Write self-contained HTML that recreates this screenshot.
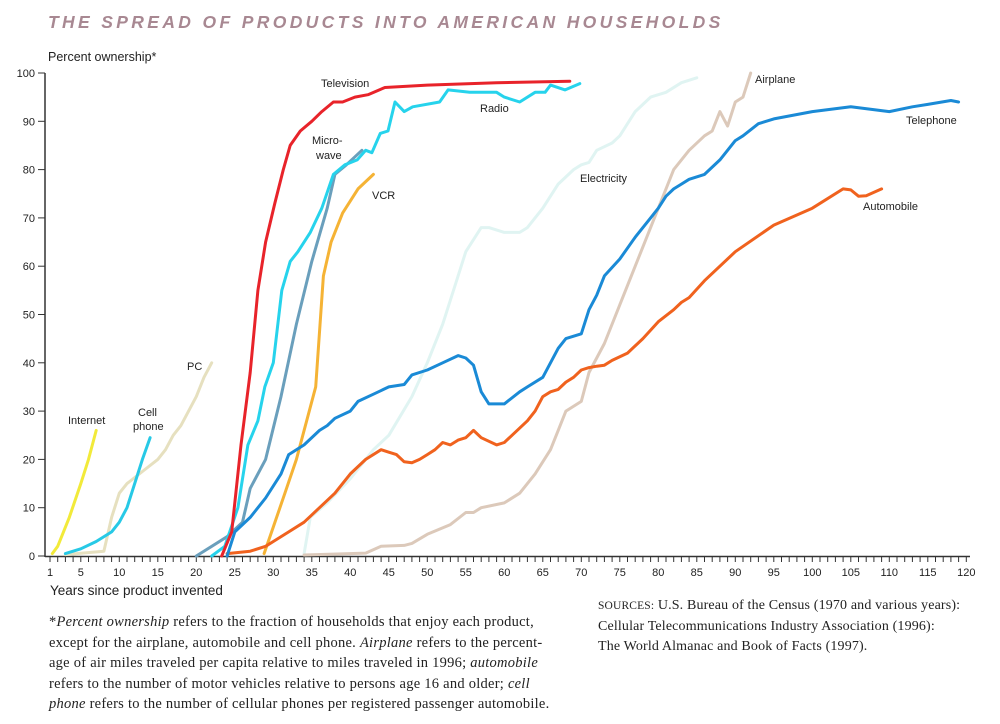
<!DOCTYPE html>
<html><head><meta charset="utf-8"><style>
body{margin:0;background:#fff;width:1000px;height:724px;overflow:hidden;font-family:"Liberation Sans",sans-serif}
svg{position:absolute;left:0;top:0}
.note{position:absolute;font-family:"Liberation Serif",serif;font-size:14px;line-height:20.5px;color:#222;white-space:nowrap}
</style></head><body>
<svg id="chart" width="1000" height="724">
<text x="48" y="28" font-size="17.5" font-weight="bold" font-style="italic" fill="#a88892" letter-spacing="3.35">THE SPREAD OF PRODUCTS INTO AMERICAN HOUSEHOLDS</text>
<text x="48" y="61" font-size="12.5" fill="#222">Percent ownership*</text>
<text x="50" y="595" font-size="13.5" fill="#222">Years since product invented</text>
<g id="axes"></g><g id="series"></g><g id="labels" font-size="11" fill="#222"></g>
</svg>
<div class="note" style="left:49px;top:612px;font-size:14.5px;letter-spacing:0.25px">*<i>Percent ownership</i> refers to the fraction of households that enjoy each product,<br>except for the airplane, automobile and cell phone. <i>Airplane</i> refers to the percent-<br>age of air miles traveled per capita relative to miles traveled in 1996; <i>automobile</i><br>refers to the number of motor vehicles relative to persons age 16 and older; <i>cell<br>phone</i> refers to the number of cellular phones per registered passenger automobile.</div>
<div class="note" style="left:598px;top:596px;letter-spacing:0.15px"><span style="font-size:11.5px">SOURCES:</span> U.S. Bureau of the Census (1970 and various years):<br>Cellular Telecommunications Industry Association (1996):<br>The World Almanac and Book of Facts (1997).</div>
<script>
const xTicks=[1,5,10,15,20,25,30,35,40,45,50,55,60,65,70,75,80,85,90,95,100,105,110,115,120];
const yTicks=[0,10,20,30,40,50,60,70,80,90,100];
const television=[[23.3,0],[24.6,5],[25.8,23],[27,38],[28,55],[29,65],[30.2,73],[31.3,80],[32.2,85],[33.5,88],[35,90],[36.3,92],[37.8,94],[39,94],[40.6,95],[42.3,95.5],[44.5,97],[50,97.5],[59,98],[68.5,98.3]];
const radio=[[22,0],[23.7,2],[25.4,10],[26.7,23],[28,28],[28.9,35],[30,40],[31.1,55],[32.2,61],[33.2,63],[34.8,67],[36.3,72],[37.8,79],[39.3,81],[40.9,82],[42,84],[42.8,83.5],[43.9,87.5],[44.9,88],[45.8,94],[47,92],[48.1,93],[51.6,94],[52.7,96.5],[55.5,96],[59,96],[60,95],[62,94],[64,96],[65.3,96],[66,97.5],[67.9,96.5],[69.8,97.8]];
const microwave=[[20,0],[24,4],[26,7],[27,14],[29,20],[31,33],[33,48],[35,61],[37,72],[38,79],[39.5,81],[41.5,84]];
const vcr=[[28.8,0.5],[30,6],[31.5,13],[33,20],[35.5,35],[36.5,58],[37.5,65],[39,71],[41,76],[43,79]];
const internet=[[1.3,0.5],[2,2],[3.5,8],[5,15],[6,20],[7,26]];
const cellPhone=[[3,0.5],[5,1.5],[7,3],[9,5],[10,7],[11,10],[12,15],[13,20],[14,24.5]];
const pc=[[3,0.3],[8,1],[9,8],[10,13],[11,15],[13,17.5],[15,20],[16,22],[17,25],[18,27],[19,30],[20,33],[21,37],[22,40]];
const electricity=[[34,0.5],[34.8,8],[37,11],[40,16],[43,22],[45,25],[48,33],[50,40],[52,48],[54,58],[55,63],[57,68],[58,68],[60,67],[62,67],[63,68],[65,72],[67,77],[69,80],[70,81],[71,81.5],[72,84],[74,85.5],[75,87],[77,92],[79,95],[81,96],[83,98],[85,99]];
const airplane=[[34,0.2],[42,0.6],[44,2],[47,2.2],[48,2.6],[50,4.5],[53,6.5],[55,9],[56,9],[57,10],[60,11],[62,13],[64,17],[66,22],[67,26],[68,30],[70,32],[71,38],[73,44],[75,52],[77,60],[79,68],[81,76],[82,80],[84,84],[86,87],[87,88],[88,92],[89,89],[90,94],[91,95],[92,100]];
const telephone=[[24,0],[25,5],[27,8],[29,12],[31,17],[32,21],[34,23],[36,26],[37,27],[38,28.5],[40,30],[41,32],[43,33.5],[45,35],[47,35.5],[48,37.5],[50,38.5],[52,40],[54,41.5],[55,41],[56,39.5],[57,34],[58,31.5],[60,31.5],[62,34],[63,35],[65,37],[66,40],[67,43],[68,45],[69,45.5],[70,46],[71,51],[72,54],[73,58],[75,61.5],[77,66],[79,70],[80,72],[81,74.5],[82,76],[83,77],[84,78],[86,79],[88,82],[90,86],[91,87],[93,89.5],[95,90.5],[100,92],[105,93],[110,92],[113,93],[115,93.5],[118,94.3],[119,94]];
const automobile=[[24,0.5],[27,1],[29,2],[30,3],[32,5],[34,7],[36,10],[38,13],[40,17],[42,20],[44,22],[45,21.5],[46,21],[47,19.5],[48,19.3],[49,20],[50,21],[51,22],[52,23.5],[53,23],[54,24],[55,24.5],[56,26],[57,24.5],[59,23],[60,23.5],[61,25],[63,28],[64,30],[65,33],[66,34],[67,34.5],[68,36],[69,37],[70,38.5],[71,39],[72,39.3],[73,39.5],[74,40.5],[76,42],[78,45],[80,48.5],[82,51],[83,52.5],[84,53.5],[86,57],[90,63],[95,68.5],[100,72],[104,76],[105,75.8],[106,74.5],[107,74.6],[109,76]];
const X=v=>50+(v-1)*7.7, Y=v=>556-v*4.83;
const NS='http://www.w3.org/2000/svg';
function mk(t,a,p){const e=document.createElementNS(NS,t);for(const k in a)e.setAttribute(k,a[k]);p.appendChild(e);return e;}
const ax=document.getElementById('axes');
let e=mk('line',{x1:45,y1:Y(100),x2:45,y2:557,stroke:'#333','stroke-width':1.5},ax);


e=mk('line',{x1:45,y1:556.5,x2:970,y2:556.5,stroke:'#333','stroke-width':1.5},ax);


for(let i=1;i<=120;i++){mk('line',{x1:X(i),y1:556,x2:X(i),y2:562,stroke:'#333','stroke-width':1},ax);}
xTicks.forEach(t=>{const tx=mk('text',{x:X(t),y:576,'font-size':11,'text-anchor':'middle',fill:'#222'},ax);tx.textContent=t;

});
yTicks.forEach(t=>{mk('line',{x1:38,y1:Y(t),x2:45,y2:Y(t),stroke:'#333'},ax);const tx=mk('text',{x:35,y:Y(t)+4,'font-size':11,'text-anchor':'end',fill:'#222'},ax);tx.textContent=t;

});
const sg=document.getElementById('series');
const defs=[[electricity,'#e0f4f2','electricity'],[airplane,'#dcc9ba','airplane'],[pc,'#e6e0bf','pc'],[internet,'#f2ea3a','internet'],[cellPhone,'#27c9e6','cell-phone'],[microwave,'#6a9fbc','microwave'],[vcr,'#f5b335','vcr'],[automobile,'#f0621e','automobile'],[telephone,'#1a8ad6','telephone'],[radio,'#26d3ec','radio'],[television,'#e8232a','television']];
defs.forEach(([d,c,n])=>{const p=mk('polyline',{points:d.map(q=>X(q[0]).toFixed(1)+','+Y(q[1]).toFixed(1)).join(' '),fill:'none',stroke:c,'stroke-width':3,'stroke-linejoin':'round','stroke-linecap':'round'},sg);

});
const lb=document.getElementById('labels');
[['Television',321,87],['Radio',480,112],['Micro-',312,144],['wave',316,159],['VCR',372,199],['Electricity',580,182],['Airplane',755,83],['Telephone',906,124],['Automobile',863,210],['PC',187,370],['Cell',138,416],['phone',133,430],['Internet',68,424]].forEach(([t,x,y])=>{const tx=mk('text',{x:x,y:y},lb);tx.textContent=t;

});
</script>
</body></html>
